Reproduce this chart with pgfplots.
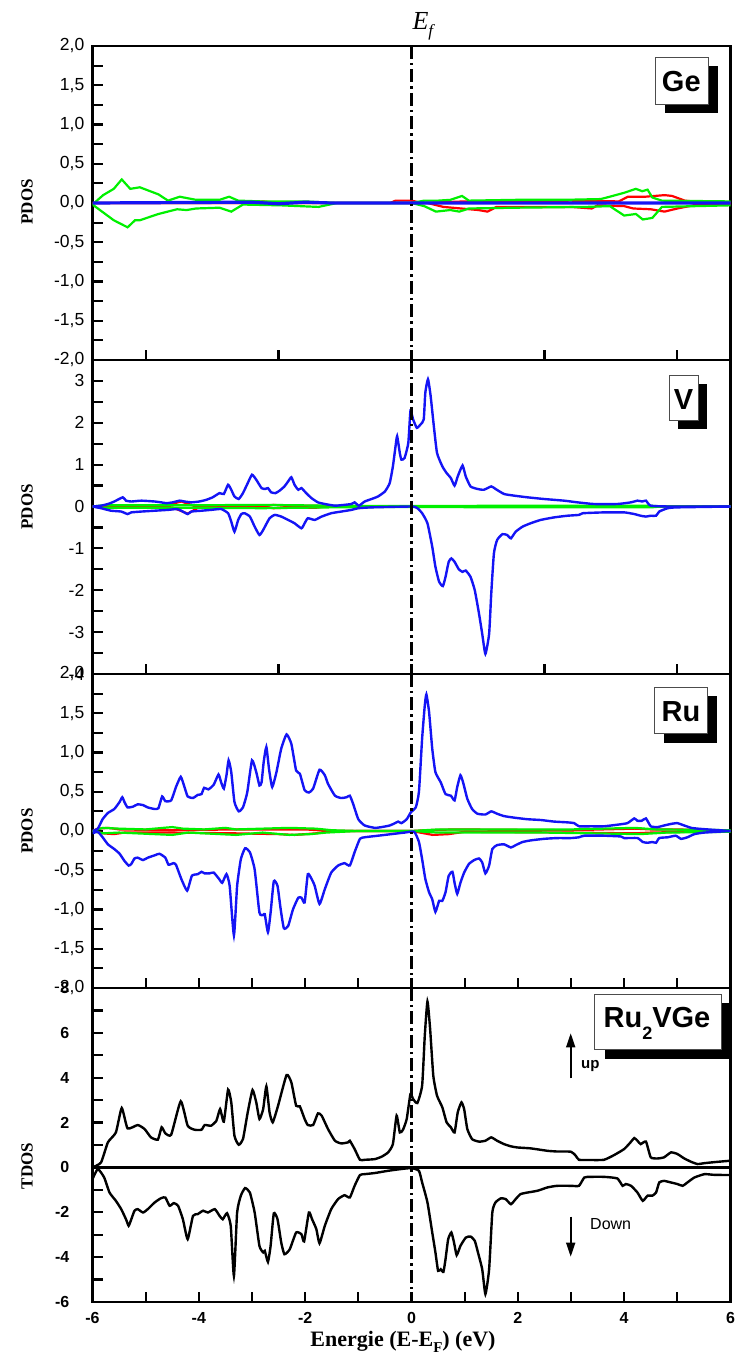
\documentclass[border=0pt]{standalone}
\usepackage{fontspec}
\setmainfont{Liberation Sans}
\newfontfamily\tnr{Liberation Serif}
\usepackage{pgfplots}
\pgfplotsset{compat=1.18}
\usetikzlibrary{arrows.meta}
\definecolor{dblue}{RGB}{20,20,245}
\definecolor{dgreen}{RGB}{0,240,0}
\pgfplotsset{
 panel/.style={scale only axis, width=638pt, height=314pt, anchor=south west, xmin=-6, xmax=6,
  axis line style={line width=2.5pt}, tick align=inside, xtick pos=left, ytick pos=left,
  every tick/.style={black, line width=2.2pt}, major tick length=10pt, minor tick length=10pt,
  yticklabel style={font=\fontsize{17.5}{18}\selectfont, inner sep=0pt, xshift=-8pt},
  clip=true},
 ef/.style={black, line width=2.2pt, dash pattern=on 13pt off 4pt on 2.5pt off 4pt},
 bl/.style={dblue, line width=2.4pt, smooth, tension=0.3},
 rd/.style={red, line width=2.2pt},
 gr/.style={dgreen, line width=2.2pt},
 tk/.style={black, line width=2.4pt, smooth, tension=0.3},
}
\begin{document}
\begin{tikzpicture}
\path[use as bounding box] (0pt,0pt) rectangle (735pt,1354pt);
% ---------------- Ge ----------------
\begin{axis}[panel, at={(92.5pt,994pt)}, ymin=-2, ymax=2,
  ytick={-2,-1.5,-1,-0.5,0,0.5,1,1.5,2},
  yticklabels={{-2,0},{-1,5},{-1,0},{-0,5},{0,0},{0,5},{1,0},{1,5},{2,0}},
  minor y tick num=1, xtick={-5,-2.5,0,2.5,5}, xticklabels={}]
\addplot[rd] coordinates {(-6,0) (-3.0,0.0) (-2.8,0.02) (-2.5,0.0) (-0.4,0.0) (-0.3,0.03) (0.0,0.03) (0.2,0.0) (1.0,0.02) (3.0,0.03) (3.9,0.02) (4.07,0.08) (4.4,0.08) (4.76,0.10) (4.9,0.09) (5.14,0.03) (5.6,0.0) (6,0)};
\addplot[rd] coordinates {(-6,0) (-3.0,0.0) (-2.8,-0.02) (-2.5,0.0) (0.3,0.0) (0.6,-0.05) (1.26,-0.09) (1.43,-0.11) (1.6,-0.05) (3.0,-0.05) (3.39,-0.07) (3.5,-0.03) (4.0,-0.04) (4.17,-0.07) (4.5,-0.08) (4.76,-0.11) (5.00,-0.07) (5.3,-0.03) (6,-0.01)};
\addplot[gr] coordinates {(-6.0,-0.02) (-5.8,0.10) (-5.6,0.18) (-5.45,0.30) (-5.29,0.18) (-5.11,0.20) (-4.76,0.11) (-4.58,0.03) (-4.36,0.08) (-4.05,0.04) (-3.61,0.04) (-3.43,0.08) (-3.26,0.03) (-2.81,0.02) (-2.0,0.02) (-1.4,0.0) (0.0,0.0) (0.24,0.03) (0.50,0.03) (0.73,0.04) (0.95,0.09) (1.08,0.03) (1.96,0.04) (2.85,0.04) (3.56,0.05) (3.73,0.08) (4.00,0.13) (4.22,0.18) (4.34,0.15) (4.44,0.17) (4.53,0.07) (4.71,0.03) (6.0,0.02)};
\addplot[gr] coordinates {(-6.0,-0.02) (-5.8,-0.12) (-5.6,-0.22) (-5.34,-0.31) (-5.20,-0.22) (-5.11,-0.22) (-4.76,-0.14) (-4.41,-0.08) (-4.23,-0.09) (-4.05,-0.07) (-3.61,-0.06) (-3.39,-0.11) (-3.17,-0.02) (-2.46,-0.03) (-1.75,-0.05) (-1.4,0.0) (0.0,0.0) (0.24,-0.04) (0.46,-0.11) (0.73,-0.09) (0.90,-0.11) (1.08,-0.07) (1.96,-0.06) (3.29,-0.05) (3.73,-0.04) (4.00,-0.16) (4.22,-0.14) (4.35,-0.21) (4.53,-0.19) (4.71,-0.05) (6.0,-0.03)};
\addplot[dblue, line width=3.2pt] coordinates {(-6,0) (-3,0.01) (-2.5,-0.01) (-2,0.01) (-1.5,0) (6,0)};
\addplot[ef] coordinates {(0,2) (0,-2)};
\end{axis}
% ---------------- V ----------------
\begin{axis}[panel, at={(92.5pt,680pt)}, ymin=-4, ymax=3.5,
  ytick={-4,-3,-2,-1,0,1,2,3}, yticklabels={-4,-3,-2,-1,0,1,2,3},
  minor y tick num=1, xtick={-5,-2.5,0,2.5,5}, xticklabels={}]
\addplot[rd] coordinates {(-6,0) (-4.65,0.02) (-4.33,0.12) (-4.1,0.02) (-2.8,0.0) (-2.6,0.04) (-2.4,0.02) (-1.8,0.02) (-1.6,0) (6,0)};
\addplot[rd] coordinates {(-6,0) (-4.5,-0.02) (-4.21,-0.17) (-4.0,-0.02) (-2.8,0) (-2.6,-0.04) (-2.4,-0.03) (-1.8,-0.03) (-1.6,0) (6,0)};
\addplot[gr] coordinates {(-6,0) (-5.8,0.03) (-4.0,0.03) (-2.8,0.04) (-1.5,0.02) (0,0.01) (2,0.02) (4.5,0.02) (4.7,0.0) (6,0)};
\addplot[gr] coordinates {(-6,0) (-5.8,-0.03) (-4.0,-0.03) (-2.8,-0.04) (-1.5,-0.02) (0,-0.01) (2,-0.02) (4.5,-0.02) (4.7,0) (6,0)};
\addplot[bl] coordinates {(-6.0,0.0) (-5.84,0.02) (-5.71,0.06) (-5.59,0.12) (-5.43,0.22) (-5.37,0.14) (-5.27,0.12) (-5.08,0.14) (-4.83,0.12) (-4.71,0.10) (-4.61,0.08) (-4.49,0.10) (-4.36,0.14) (-4.27,0.12) (-4.14,0.10) (-3.99,0.12) (-3.86,0.16) (-3.74,0.22) (-3.61,0.32) (-3.53,0.30) (-3.45,0.52) (-3.39,0.40) (-3.33,0.24) (-3.25,0.18) (-3.17,0.32) (-3.08,0.56) (-3.00,0.76) (-2.92,0.64) (-2.82,0.44) (-2.75,0.42) (-2.70,0.44) (-2.64,0.34) (-2.56,0.32) (-2.48,0.38) (-2.39,0.48) (-2.32,0.60) (-2.26,0.70) (-2.20,0.52) (-2.13,0.40) (-2.07,0.44) (-1.98,0.32) (-1.88,0.20) (-1.76,0.10) (-1.63,0.06) (-1.44,0.02) (-1.26,0.04) (-1.13,0.06) (-1.07,0.10) (-0.99,0.02) (-0.88,0.12) (-0.75,0.18) (-0.63,0.24) (-0.50,0.36) (-0.41,0.56) (-0.35,0.96) (-0.30,1.44) (-0.27,1.68) (-0.22,1.28) (-0.19,1.12) (-0.13,1.16) (-0.06,1.52) (-0.02,2.28) (0.03,2.08) (0.10,1.88) (0.17,1.96) (0.23,2.08) (0.26,2.72) (0.31,3.04) (0.36,2.64) (0.42,1.92) (0.48,1.28) (0.58,0.96) (0.66,0.80) (0.74,0.68) (0.81,0.50) (0.87,0.72) (0.96,0.98) (1.02,0.72) (1.11,0.48) (1.24,0.42) (1.36,0.40) (1.50,0.48) (1.58,0.42) (1.74,0.30) (1.93,0.26) (2.18,0.22) (2.49,0.18) (2.87,0.14) (3.12,0.10) (3.43,0.06) (3.87,0.06) (4.13,0.10) (4.25,0.14) (4.34,0.12) (4.41,0.14) (4.50,0.02) (4.88,0.0) (6.0,0.0)};
\addplot[bl] coordinates {(-6.0,0.0) (-5.84,-0.04) (-5.65,-0.10) (-5.46,-0.12) (-5.34,-0.18) (-5.27,-0.14) (-5.08,-0.12) (-4.83,-0.10) (-4.58,-0.08) (-4.41,-0.06) (-4.33,-0.10) (-4.21,-0.18) (-4.14,-0.12) (-3.95,-0.10) (-3.77,-0.08) (-3.58,-0.06) (-3.45,-0.16) (-3.39,-0.36) (-3.33,-0.60) (-3.26,-0.32) (-3.20,-0.18) (-3.14,-0.16) (-3.04,-0.24) (-2.95,-0.48) (-2.86,-0.68) (-2.79,-0.56) (-2.67,-0.28) (-2.57,-0.20) (-2.45,-0.24) (-2.32,-0.32) (-2.20,-0.40) (-2.07,-0.52) (-2.01,-0.40) (-1.95,-0.28) (-1.82,-0.32) (-1.69,-0.24) (-1.51,-0.16) (-1.32,-0.12) (-1.13,-0.08) (-1.00,-0.04) (-0.75,-0.02) (0.0,0.0) (0.11,-0.04) (0.20,-0.16) (0.30,-0.40) (0.39,-0.96) (0.45,-1.44) (0.52,-1.80) (0.59,-1.90) (0.64,-1.68) (0.70,-1.32) (0.75,-1.24) (0.81,-1.32) (0.89,-1.50) (0.96,-1.56) (1.02,-1.53) (1.11,-1.68) (1.19,-2.00) (1.27,-2.56) (1.33,-3.04) (1.39,-3.52) (1.46,-3.04) (1.50,-2.08) (1.55,-1.12) (1.61,-0.80) (1.71,-0.66) (1.80,-0.68) (1.87,-0.76) (1.96,-0.60) (2.09,-0.48) (2.24,-0.40) (2.43,-0.32) (2.68,-0.26) (2.93,-0.22) (3.15,-0.20) (3.22,-0.16) (3.62,-0.14) (4.00,-0.14) (4.19,-0.18) (4.31,-0.22) (4.41,-0.24) (4.50,-0.22) (4.60,-0.22) (4.66,-0.12) (4.82,-0.04) (5.00,-0.02) (6.0,0.0)};
\addplot[ef] coordinates {(0,3.5) (0,-4)};
\end{axis}
% ---------------- Ru ----------------
\begin{axis}[panel, at={(92.5pt,366pt)}, ymin=-2, ymax=2,
  ytick={-2,-1.5,-1,-0.5,0,0.5,1,1.5,2},
  yticklabels={{-2,0},{-1,5},{-1,0},{-0,5},{0,0},{0,5},{1,0},{1,5},{2,0}},
  minor y tick num=1, xtick={-5,-4,-3,-2,-1,0,1,2,3,4,5}, xticklabels={}]
\addplot[rd] coordinates {(-6,0) (-5.9,0.03) (-5.7,0.04) (-5.5,0.02) (-4.5,0.01) (-3.3,0.02) (-2.5,0.02) (-2,0.02) (-1.5,0) (0,0) (0.3,0.01) (0.8,0.02) (3.0,0.01) (4.2,0.03) (4.5,0.02) (5,0.02) (6,0)};
\addplot[rd] coordinates {(-6,0) (-5.8,-0.03) (-5.6,-0.04) (-5.4,-0.02) (-4.5,-0.02) (-3.3,-0.03) (-2.5,-0.04) (-2.2,-0.05) (-1.8,-0.03) (-1.5,0) (0,0) (0.4,-0.05) (0.7,-0.04) (1.0,-0.01) (3.0,-0.02) (4.2,-0.03) (4.5,-0.02) (6,0)};
\addplot[gr] coordinates {(-6,0) (-5.8,0.04) (-5.5,0.03) (-5.0,0.02) (-4.5,0.05) (-4.3,0.03) (-3.9,0.02) (-3.5,0.04) (-3.3,0.02) (-2.8,0.03) (-2.3,0.04) (-1.8,0.03) (-1.5,0.01) (-1,0) (0,0) (0.5,0.02) (1.5,0.02) (3,0.02) (4.2,0.04) (4.6,0.02) (6,0.01)};
\addplot[gr] coordinates {(-6,0) (-5.8,-0.03) (-5.5,-0.02) (-4.5,-0.05) (-4.2,-0.02) (-3.3,-0.05) (-2.8,-0.02) (-2.3,-0.05) (-1.9,-0.04) (-1.6,-0.02) (-1,0) (0,0) (0.5,-0.02) (2.5,-0.02) (4.3,-0.04) (4.8,-0.02) (6,-0.01)};
\addplot[bl] coordinates {(-6.0,0.0) (-5.90,0.03) (-5.81,0.15) (-5.71,0.23) (-5.59,0.28) (-5.49,0.37) (-5.44,0.43) (-5.40,0.37) (-5.34,0.30) (-5.24,0.31) (-5.15,0.34) (-5.05,0.33) (-4.96,0.30) (-4.83,0.28) (-4.76,0.29) (-4.69,0.44) (-4.63,0.38) (-4.52,0.39) (-4.43,0.56) (-4.34,0.69) (-4.27,0.56) (-4.21,0.44) (-4.11,0.42) (-4.02,0.46) (-3.95,0.47) (-3.90,0.55) (-3.82,0.53) (-3.72,0.59) (-3.63,0.72) (-3.58,0.62) (-3.53,0.54) (-3.48,0.71) (-3.44,0.90) (-3.39,0.75) (-3.33,0.37) (-3.25,0.25) (-3.17,0.30) (-3.09,0.49) (-3.00,0.90) (-2.92,0.75) (-2.86,0.58) (-2.82,0.62) (-2.78,0.88) (-2.73,1.07) (-2.68,0.79) (-2.62,0.56) (-2.54,0.75) (-2.45,1.05) (-2.35,1.23) (-2.26,1.11) (-2.17,0.77) (-2.10,0.73) (-2.01,0.52) (-1.93,0.49) (-1.85,0.54) (-1.73,0.78) (-1.63,0.71) (-1.57,0.60) (-1.44,0.45) (-1.32,0.42) (-1.22,0.43) (-1.16,0.45) (-1.10,0.35) (-1.00,0.15) (-0.88,0.07) (-0.69,0.04) (-0.56,0.05) (-0.41,0.07) (-0.31,0.10) (-0.25,0.12) (-0.19,0.10) (-0.09,0.15) (-0.01,0.24) (0.08,0.30) (0.14,0.50) (0.20,1.18) (0.25,1.60) (0.28,1.74) (0.33,1.52) (0.39,1.05) (0.45,0.75) (0.55,0.62) (0.64,0.47) (0.74,0.45) (0.81,0.39) (0.86,0.56) (0.92,0.71) (0.97,0.62) (1.05,0.41) (1.14,0.28) (1.24,0.22) (1.39,0.21) (1.50,0.25) (1.61,0.22) (1.74,0.19) (1.93,0.17) (2.18,0.15) (2.43,0.14) (2.68,0.12) (2.93,0.11) (3.06,0.10) (3.15,0.06) (3.37,0.06) (3.62,0.06) (3.87,0.08) (4.06,0.10) (4.19,0.16) (4.25,0.13) (4.33,0.13) (4.41,0.16) (4.50,0.06) (4.63,0.05) (4.75,0.07) (4.88,0.09) (5.00,0.10) (5.13,0.07) (5.26,0.04) (5.38,0.03) (5.57,0.02) (6.0,0.0)};
\addplot[bl] coordinates {(-6.0,-0.03) (-5.90,-0.01) (-5.81,-0.08) (-5.71,-0.17) (-5.59,-0.23) (-5.49,-0.29) (-5.40,-0.38) (-5.32,-0.44) (-5.27,-0.42) (-5.21,-0.35) (-5.15,-0.34) (-5.05,-0.37) (-4.96,-0.34) (-4.83,-0.31) (-4.74,-0.29) (-4.63,-0.34) (-4.57,-0.43) (-4.48,-0.41) (-4.43,-0.43) (-4.33,-0.61) (-4.22,-0.76) (-4.13,-0.57) (-4.02,-0.55) (-3.95,-0.52) (-3.89,-0.54) (-3.80,-0.54) (-3.72,-0.53) (-3.62,-0.61) (-3.56,-0.66) (-3.48,-0.55) (-3.42,-0.70) (-3.34,-1.33) (-3.28,-0.70) (-3.21,-0.36) (-3.13,-0.22) (-3.04,-0.27) (-2.95,-0.49) (-2.86,-1.04) (-2.79,-1.07) (-2.76,-1.06) (-2.70,-1.29) (-2.65,-1.04) (-2.59,-0.64) (-2.52,-0.70) (-2.46,-1.00) (-2.40,-1.24) (-2.32,-1.21) (-2.23,-1.00) (-2.13,-0.85) (-2.07,-0.85) (-2.01,-0.91) (-1.95,-0.55) (-1.88,-0.61) (-1.82,-0.70) (-1.73,-0.93) (-1.63,-0.74) (-1.51,-0.53) (-1.38,-0.44) (-1.26,-0.41) (-1.16,-0.44) (-1.07,-0.27) (-0.97,-0.10) (-0.88,-0.08) (-0.63,-0.06) (-0.38,-0.04) (-0.13,-0.02) (0.05,-0.01) (0.14,-0.14) (0.20,-0.36) (0.26,-0.61) (0.33,-0.78) (0.39,-0.87) (0.45,-1.03) (0.52,-0.89) (0.58,-0.89) (0.64,-0.78) (0.70,-0.57) (0.77,-0.52) (0.81,-0.66) (0.86,-0.80) (0.92,-0.66) (0.99,-0.53) (1.08,-0.42) (1.18,-0.37) (1.27,-0.35) (1.33,-0.40) (1.39,-0.54) (1.46,-0.44) (1.52,-0.23) (1.61,-0.18) (1.74,-0.17) (1.87,-0.21) (1.96,-0.18) (2.09,-0.14) (2.24,-0.12) (2.49,-0.10) (2.74,-0.09) (3.00,-0.09) (3.15,-0.08) (3.25,-0.06) (3.62,-0.06) (3.94,-0.07) (4.00,-0.09) (4.25,-0.09) (4.35,-0.14) (4.44,-0.15) (4.53,-0.14) (4.60,-0.15) (4.66,-0.09) (4.82,-0.08) (4.97,-0.06) (5.07,-0.10) (5.19,-0.08) (5.32,-0.04) (5.51,-0.02) (6.0,0.0)};
\addplot[ef] coordinates {(0,2) (0,-2)};
\end{axis}
% ---------------- TDOS ----------------
\begin{axis}[panel, at={(92.5pt,52pt)}, ymin=-6, ymax=8,
  ytick={-6,-4,-2,0,2,4,6,8}, yticklabels={-6,-4,-2,0,2,4,6,8}, minor y tick num=1,
  xtick={-6,-4,-2,0,2,4,6}, xticklabels={-6,-4,-2,0,2,4,6}, minor x tick num=1,
  yticklabel style={font=\bfseries\fontsize{16}{16}\selectfont, inner sep=0pt, xshift=-15pt},
  xticklabel style={font=\bfseries\fontsize{16}{16}\selectfont, inner sep=0pt, anchor=north, yshift=-10pt}]
\addplot[black, line width=2.6pt] coordinates {(-6,0) (6,0)};
\addplot[tk] coordinates {(-6.0,0.0) (-5.84,0.22) (-5.71,1.12) (-5.56,1.56) (-5.45,2.65) (-5.34,1.74) (-5.15,1.89) (-5.02,1.71) (-4.90,1.34) (-4.77,1.24) (-4.70,1.79) (-4.63,1.52) (-4.52,1.46) (-4.34,2.95) (-4.21,1.86) (-4.08,1.68) (-3.95,1.68) (-3.89,1.89) (-3.77,1.86) (-3.67,2.08) (-3.60,2.60) (-3.53,2.04) (-3.45,3.47) (-3.39,2.90) (-3.33,1.41) (-3.25,1.01) (-3.17,1.26) (-3.08,2.46) (-2.99,3.45) (-2.92,2.90) (-2.86,2.16) (-2.79,2.60) (-2.73,3.62) (-2.67,2.46) (-2.61,2.01) (-2.51,2.75) (-2.35,4.12) (-2.26,3.79) (-2.17,2.75) (-2.10,2.72) (-2.01,2.16) (-1.95,1.89) (-1.85,1.89) (-1.76,2.41) (-1.69,2.31) (-1.57,1.71) (-1.44,1.19) (-1.32,1.07) (-1.19,1.12) (-1.16,1.19) (-1.07,0.82) (-0.97,0.34) (-0.88,0.34) (-0.69,0.37) (-0.56,0.48) (-0.44,0.67) (-0.35,1.04) (-0.28,2.31) (-0.22,1.56) (-0.16,1.68) (-0.09,2.16) (-0.02,3.27) (0.03,3.05) (0.11,2.87) (0.20,3.65) (0.25,5.88) (0.30,7.40) (0.35,6.18) (0.41,4.09) (0.48,3.20) (0.58,2.68) (0.66,2.01) (0.74,1.79) (0.81,1.56) (0.87,2.46) (0.94,2.90) (0.99,2.60) (1.05,1.71) (1.14,1.26) (1.27,1.15) (1.39,1.19) (1.50,1.34) (1.61,1.19) (1.74,1.04) (1.87,0.94) (1.99,0.89) (2.24,0.85) (2.56,0.74) (2.74,0.71) (3.00,0.70) (3.09,0.52) (3.15,0.34) (3.37,0.33) (3.62,0.34) (3.81,0.55) (4.00,0.82) (4.12,1.12) (4.19,1.31) (4.25,1.19) (4.31,1.04) (4.41,1.15) (4.50,0.45) (4.63,0.40) (4.75,0.45) (4.88,0.67) (5.00,0.60) (5.13,0.40) (5.26,0.25) (5.38,0.15) (5.51,0.19) (5.63,0.22) (5.76,0.25) (6.0,0.30)};
\addplot[tk] coordinates {(-6.0,-0.52) (-5.90,-0.07) (-5.78,-0.45) (-5.68,-1.12) (-5.56,-1.49) (-5.46,-1.86) (-5.37,-2.31) (-5.32,-2.60) (-5.27,-2.31) (-5.21,-1.93) (-5.15,-1.86) (-5.05,-2.01) (-4.96,-1.86) (-4.83,-1.56) (-4.71,-1.37) (-4.63,-1.34) (-4.55,-1.71) (-4.47,-1.59) (-4.39,-1.71) (-4.30,-2.31) (-4.21,-3.20) (-4.11,-2.16) (-4.02,-2.08) (-3.92,-1.93) (-3.83,-2.01) (-3.70,-1.86) (-3.61,-2.16) (-3.55,-2.31) (-3.47,-2.04) (-3.40,-2.60) (-3.34,-4.84) (-3.28,-2.01) (-3.21,-1.26) (-3.13,-0.92) (-3.04,-1.12) (-2.95,-2.01) (-2.86,-3.50) (-2.79,-3.79) (-2.76,-3.72) (-2.70,-4.21) (-2.65,-3.50) (-2.59,-2.05) (-2.52,-2.31) (-2.45,-3.35) (-2.39,-3.87) (-2.29,-3.65) (-2.17,-2.90) (-2.07,-2.98) (-2.02,-3.30) (-1.93,-2.01) (-1.87,-2.31) (-1.79,-2.75) (-1.73,-3.38) (-1.63,-2.60) (-1.51,-1.86) (-1.38,-1.41) (-1.26,-1.24) (-1.16,-1.34) (-1.07,-0.82) (-0.97,-0.34) (-0.88,-0.30) (-0.69,-0.25) (-0.44,-0.15) (-0.19,-0.07) (0.0,-0.03) (0.14,-0.15) (0.20,-0.67) (0.30,-1.56) (0.39,-2.90) (0.45,-3.79) (0.50,-4.61) (0.55,-4.54) (0.60,-4.66) (0.64,-4.09) (0.69,-3.20) (0.75,-2.90) (0.80,-3.35) (0.85,-3.91) (0.92,-3.50) (1.02,-3.13) (1.11,-3.08) (1.19,-3.27) (1.25,-3.79) (1.33,-4.54) (1.39,-5.65) (1.46,-4.54) (1.52,-2.01) (1.58,-1.56) (1.68,-1.38) (1.77,-1.41) (1.87,-1.64) (1.96,-1.41) (2.05,-1.19) (2.18,-1.12) (2.37,-1.04) (2.56,-0.89) (2.74,-0.82) (3.00,-0.82) (3.15,-0.82) (3.25,-0.45) (3.37,-0.42) (3.62,-0.42) (3.87,-0.49) (3.97,-0.82) (4.03,-0.74) (4.13,-0.82) (4.25,-1.12) (4.35,-1.49) (4.44,-1.26) (4.53,-1.26) (4.60,-1.12) (4.66,-0.67) (4.75,-0.60) (4.88,-0.67) (5.00,-0.74) (5.10,-0.82) (5.19,-0.67) (5.32,-0.45) (5.51,-0.30) (5.69,-0.33) (6.0,-0.34)};
\addplot[ef] coordinates {(0,8) (0,-6)};
\end{axis}
% ---------------- labels ----------------
\node[rotate=90, font={\tnr\bfseries\fontsize{17}{17}\selectfont}] at (27pt,1152pt) {PDOS};
\node[rotate=90, font={\tnr\bfseries\fontsize{17}{17}\selectfont}] at (27pt,847pt) {PDOS};
\node[rotate=90, font={\tnr\bfseries\fontsize{17}{17}\selectfont}] at (27pt,523pt) {PDOS};
\node[rotate=90, font={\tnr\bfseries\fontsize{17}{17}\selectfont}] at (27pt,188pt) {TDOS};
\node[anchor=base west, font={\tnr\itshape\fontsize{26}{26}\selectfont}] at (409pt,1324pt) {E\raisebox{-7pt}{\fontsize{17}{17}\selectfont f}};
\node[anchor=base, font={\tnr\bfseries\fontsize{22}{22}\selectfont}] at (403pt,7pt) {Energie (E-E\raisebox{-5pt}{\fontsize{15}{15}\selectfont F}) (eV)};
% Ge box
\fill[black] (665pt,1288pt) rectangle (718pt,1241pt);
\filldraw[fill=white, draw=black!70, line width=0.8pt] (655pt,1297pt) rectangle (708pt,1250pt);
\node[anchor=base, font={\bfseries\fontsize{29}{30}\selectfont}] at (681.3pt,1262.3pt) {Ge};
% V box
\fill[black] (678pt,970pt) rectangle (707pt,925pt);
\filldraw[fill=white, draw=black!70, line width=0.8pt] (669pt,979pt) rectangle (698pt,934pt);
\node[anchor=base, font={\bfseries\fontsize{29}{30}\selectfont}] at (683.5pt,944.7pt) {V};
% Ru box
\fill[black] (664pt,657.5pt) rectangle (717pt,611pt);
\filldraw[fill=white, draw=black!70, line width=0.8pt] (654.5pt,667pt) rectangle (707.5pt,620.5pt);
\node[anchor=base, font={\bfseries\fontsize{29}{30}\selectfont}] at (681pt,632.7pt) {Ru};
% Ru2VGe box
\fill[black] (604.5pt,351pt) rectangle (730pt,295pt);
\filldraw[fill=white, draw=black!70, line width=0.8pt] (594.5pt,359.5pt) rectangle (721pt,305pt);
\node[anchor=base, font={\bfseries\fontsize{29}{30}\selectfont}] at (657pt,326pt) {Ru\raisebox{-12pt}{\fontsize{18}{18}\selectfont 2}VGe};
% up / down arrows
\draw[-{Triangle[length=14pt,width=9pt]}, line width=1.6pt] (570.7pt,275.7pt) -- (570.7pt,320.7pt);
\draw[-{Triangle[length=14pt,width=9pt]}, line width=1.6pt] (570.7pt,137.3pt) -- (570.7pt,97.3pt);
\node[anchor=base west, font={\bfseries\fontsize{15}{15}\selectfont}] at (577.7pt,285.7pt) {up};
\node[anchor=base west, font={\fontsize{16}{16}\selectfont}] at (586.7pt,124pt) {Down};
\end{tikzpicture}
\end{document}
